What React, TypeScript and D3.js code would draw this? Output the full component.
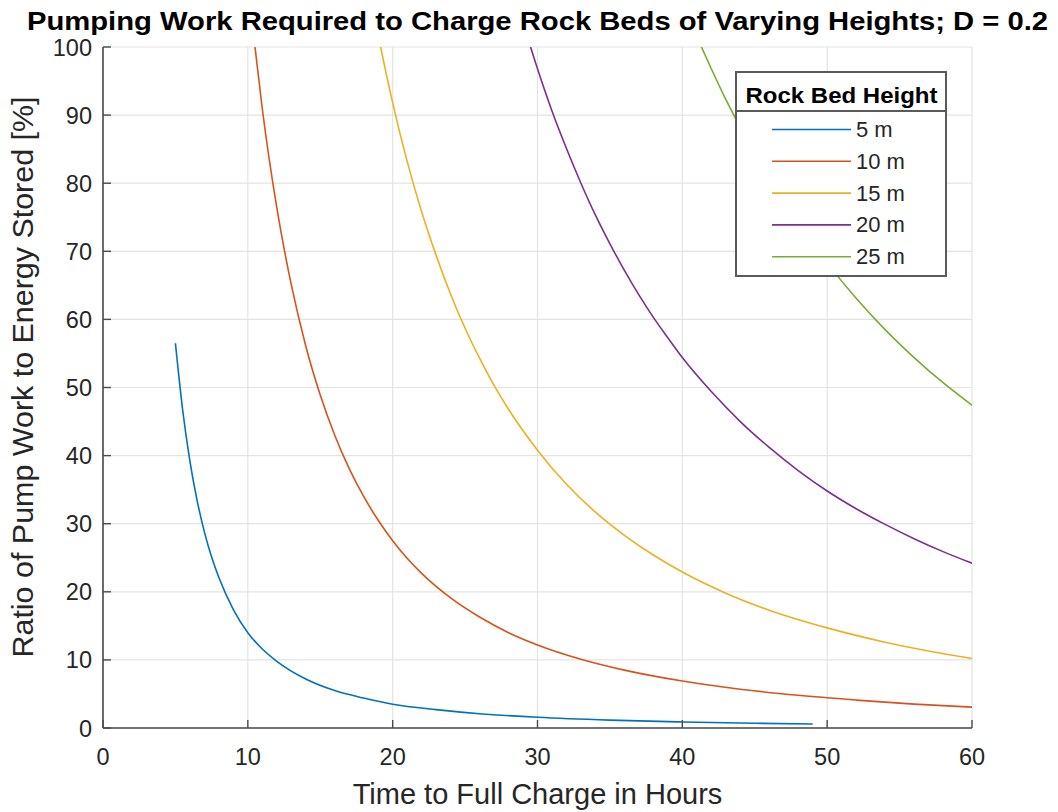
import React from 'react';
import * as d3 from 'd3';

const chartTitle = 'Pumping Work Required to Charge Rock Beds of Varying Heights; D = 0.2';
const xLabel = 'Time to Full Charge in Hours';
const yLabel = 'Ratio of Pump Work to Energy Stored [%]';
const legendTitle = 'Rock Bed Height';

const seriesLabels = ['5 m', '10 m', '15 m', '20 m', '25 m'];
const seriesColors = ['#0072BD', '#D95319', '#EDB120', '#7E2F8E', '#77AC30'];

const hours5 = [5, 5.5, 6, 6.5, 7, 7.5, 8, 9, 10, 11, 12, 14, 16, 18, 20, 23, 26, 30, 35, 40, 45, 49];
const ratio5 = [56.5, 46.7, 39.2, 33.4, 28.8, 25.1, 22.1, 17.4, 14.0, 11.6, 9.8, 7.2, 5.5, 4.4, 3.5, 2.7, 2.1, 1.57, 1.15, 0.88, 0.7, 0.59];

const hours10 = [10.4, 11, 12, 13, 14, 15, 16, 17, 18, 19, 20, 22, 24, 26, 28, 30, 33, 36, 40, 44, 48, 52, 56, 60];
const ratio10 = [101.7, 90.9, 76.4, 65.1, 56.1, 48.9, 43.0, 38.1, 34.0, 30.5, 27.5, 22.7, 19.1, 16.3, 14.0, 12.2, 10.1, 8.5, 6.9, 5.7, 4.8, 4.1, 3.5, 3.06];

const hours15 = [19, 20, 21, 22, 23, 24, 25, 26, 27, 28, 30, 32, 34, 36, 38, 40, 43, 46, 50, 54, 57, 60];
const ratio15 = [101.7, 91.8, 83.2, 75.8, 69.4, 63.7, 58.7, 54.3, 50.3, 46.8, 40.8, 35.8, 31.7, 28.3, 25.4, 22.9, 19.8, 17.3, 14.7, 12.6, 11.3, 10.2];

const hours20 = [29, 30, 31, 32, 33, 34, 35, 36, 37, 38, 39, 40, 42, 44, 46, 48, 50, 52, 54, 56, 58, 60];
const ratio20 = [103.6, 96.8, 90.6, 85.1, 80.0, 75.3, 71.1, 67.2, 63.6, 60.3, 57.3, 54.4, 49.4, 45.0, 41.2, 37.8, 34.8, 32.2, 29.9, 27.8, 25.9, 24.2];

const hours25 = [41, 42, 43, 44, 45, 46, 47, 48, 50, 52, 54, 56, 58, 60];
const ratio25 = [101.5, 96.8, 92.3, 88.2, 84.3, 80.7, 77.3, 74.1, 68.3, 63.1, 58.5, 54.4, 50.7, 47.4];

const xTicks = [0, 10, 20, 30, 40, 50, 60];
const yTicks = [0, 10, 20, 30, 40, 50, 60, 70, 80, 90, 100];

const FONT = '"Liberation Sans", Arial, Helvetica, sans-serif';

export default function App() {
  const W = 1058;
  const H = 812;
  const left = 103;
  const right = 972;
  const top = 47;
  const bottom = 728;

  const x = d3.scaleLinear().domain([0, 60]).range([left, right]);
  const y = d3.scaleLinear().domain([0, 100]).range([bottom, top]);

  const series = [
    { hours: hours5, ratio: ratio5 },
    { hours: hours10, ratio: ratio10 },
    { hours: hours15, ratio: ratio15 },
    { hours: hours20, ratio: ratio20 },
    { hours: hours25, ratio: ratio25 },
  ];

  const line = d3
    .line<[number, number]>()
    .x((d) => x(d[0]))
    .y((d) => y(d[1]))
    .curve(d3.curveMonotoneX);

  const gridColor = '#e3e3e3';
  const axisColor = '#4a4a4a';
  const tickLen = 8;

  // legend layout
  const lgX = 736;
  const lgY = 72;
  const lgW = 210;
  const lgH = 204;
  const lgSep = 111;
  const lgRow0 = 129.5;
  const lgRowStep = 31.8;

  return (
    <svg
      width={W}
      height={H}
      style={{ position: 'absolute', left: 0, top: 0, background: '#fff', fontFamily: FONT }}
    >
      <defs>
        <clipPath id="plotClip">
          <rect x={left} y={top} width={right - left} height={bottom - top} />
        </clipPath>
      </defs>
      <rect x={0} y={0} width={W} height={H} fill="#fff" />

      {/* grid */}
      {xTicks.map((t) => (
        <line key={'gx' + t} x1={x(t)} x2={x(t)} y1={top} y2={bottom} stroke={gridColor} strokeWidth={1.2} />
      ))}
      {yTicks.map((t) => (
        <line key={'gy' + t} x1={left} x2={right} y1={y(t)} y2={y(t)} stroke={gridColor} strokeWidth={1.2} />
      ))}

      {/* series */}
      <g clipPath="url(#plotClip)">
        {series.map((s, i) => (
          <path
            key={'s' + i}
            d={line(s.hours.map((h, j) => [h, s.ratio[j]] as [number, number])) || ''}
            fill="none"
            stroke={seriesColors[i]}
            strokeWidth={1.6}
          />
        ))}
      </g>

      {/* axes */}
      <line x1={left} x2={left} y1={top} y2={bottom} stroke={axisColor} strokeWidth={1.6} />
      <line x1={left} x2={right} y1={bottom} y2={bottom} stroke={axisColor} strokeWidth={1.6} />
      {yTicks.map((t) => (
        <g key={'yt' + t}>
          <line x1={left} x2={left + tickLen} y1={y(t)} y2={y(t)} stroke={axisColor} strokeWidth={1.4} />
          <text x={left - 11} y={y(t) + 8.5} textAnchor="end" fontSize={23.5} fill="#262626">
            {t}
          </text>
        </g>
      ))}
      {xTicks.map((t) => (
        <g key={'xt' + t}>
          <line x1={x(t)} x2={x(t)} y1={bottom} y2={bottom - tickLen} stroke={axisColor} strokeWidth={1.4} />
          <text x={x(t)} y={765} textAnchor="middle" fontSize={23.5} fill="#262626">
            {t}
          </text>
        </g>
      ))}

      {/* labels */}
      <text x={537.5} y={804} textAnchor="middle" fontSize={29} fill="#262626">
        {xLabel}
      </text>
      <text
        transform={`translate(33, 377) rotate(-90)`}
        textAnchor="middle"
        fontSize={29}
        fill="#262626"
        textLength={561}
        lengthAdjust="spacingAndGlyphs"
      >
        {yLabel}
      </text>
      <text
        x={537.5}
        y={30}
        textAnchor="middle"
        fontSize={26.5}
        fontWeight="bold"
        fill="#000"
        textLength={1021}
        lengthAdjust="spacingAndGlyphs"
      >
        {chartTitle}
      </text>

      {/* legend */}
      <g>
        <rect x={lgX} y={lgY} width={lgW} height={lgH} fill="#fff" stroke="#5a5a5a" strokeWidth={2} />
        <line x1={lgX} x2={lgX + lgW} y1={lgSep} y2={lgSep} stroke="#5a5a5a" strokeWidth={2} />
        <text
          x={lgX + lgW / 2 + 0.5}
          y={102.5}
          textAnchor="middle"
          fontSize={22}
          fontWeight="bold"
          fill="#000"
          textLength={192}
          lengthAdjust="spacingAndGlyphs"
        >
          {legendTitle}
        </text>
        {seriesLabels.map((lab, i) => {
          const yy = lgRow0 + i * lgRowStep;
          return (
            <g key={'lg' + i}>
              <line x1={772} x2={851} y1={yy} y2={yy} stroke={seriesColors[i]} strokeWidth={1.6} />
              <text x={856} y={yy + 7.5} fontSize={22} fill="#262626">
                {lab}
              </text>
            </g>
          );
        })}
      </g>
    </svg>
  );
}
